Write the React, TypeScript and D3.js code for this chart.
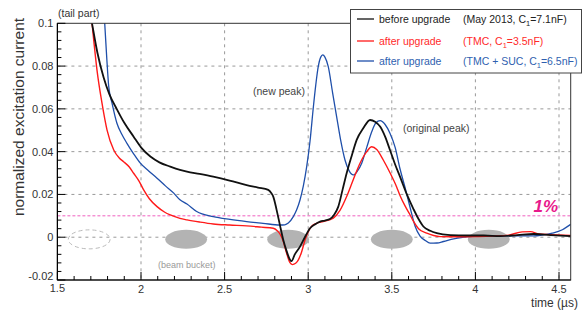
import React from "react";
import * as d3 from "d3";

const W = 583;
const H = 310;

// Data (time in µs, normalized excitation current)
const blackT = [1.68, 1.707, 1.74, 1.777, 1.81, 1.856, 1.9, 1.956, 2.0, 2.056, 2.11, 2.175, 2.233, 2.275, 2.35, 2.432, 2.53, 2.632, 2.7, 2.761, 2.78, 2.791, 2.811, 2.83, 2.851, 2.871, 2.891, 2.9, 2.92, 2.951, 2.98, 3.011, 3.04, 3.071, 3.1, 3.13, 3.155, 3.18, 3.205, 3.23, 3.26, 3.29, 3.33, 3.37, 3.4, 3.43, 3.46, 3.489, 3.52, 3.549, 3.59, 3.629, 3.66, 3.689, 3.73, 3.769, 3.85, 3.95, 4.05, 4.15, 4.25, 4.35, 4.45, 4.57];
const blackV = [0.112, 0.1, 0.086, 0.0745, 0.067, 0.0598, 0.0535, 0.047, 0.042, 0.0377, 0.035, 0.033, 0.0315, 0.0307, 0.0296, 0.0283, 0.0265, 0.0244, 0.0232, 0.0221, 0.0205, 0.019, 0.0128, 0.006, -0.0013, -0.0065, -0.0105, -0.0112, -0.008, -0.0044, 0.0, 0.0042, 0.006, 0.0073, 0.0078, 0.0085, 0.0105, 0.0143, 0.022, 0.0299, 0.038, 0.0455, 0.051, 0.0548, 0.054, 0.0517, 0.047, 0.0408, 0.034, 0.0283, 0.02, 0.0133, 0.0085, 0.005, 0.003, 0.0019, 0.001, 0.0008, 0.0008, 0.0005, 0.001, 0.0015, 0.001, 0.0005];

const redT = [1.69, 1.707, 1.72, 1.737, 1.767, 1.797, 1.837, 1.87, 1.896, 1.93, 1.956, 1.99, 2.016, 2.05, 2.096, 2.14, 2.175, 2.233, 2.275, 2.35, 2.432, 2.53, 2.632, 2.72, 2.791, 2.815, 2.831, 2.851, 2.871, 2.89, 2.905, 2.925, 2.941, 2.96, 2.981, 3.0, 3.021, 3.05, 3.09, 3.15, 3.19, 3.23, 3.27, 3.31, 3.35, 3.38, 3.41, 3.449, 3.49, 3.529, 3.549, 3.58, 3.609, 3.629, 3.66, 3.709, 3.75, 3.789, 3.9, 4.0, 4.1, 4.2, 4.28, 4.33, 4.38, 4.45, 4.57];
const redV = [0.11, 0.1, 0.09, 0.078, 0.0626, 0.0501, 0.0408, 0.037, 0.0353, 0.0328, 0.0299, 0.026, 0.0221, 0.018, 0.0143, 0.0118, 0.0104, 0.0088, 0.0081, 0.0071, 0.0062, 0.0057, 0.0053, 0.0047, 0.0042, 0.003, 0.0015, -0.002, -0.0075, -0.0118, -0.0128, -0.0122, -0.0106, -0.007, -0.0013, 0.0025, 0.0052, 0.0065, 0.0073, 0.0089, 0.0125, 0.019, 0.027, 0.0346, 0.04, 0.0423, 0.041, 0.0361, 0.03, 0.0235, 0.0195, 0.0145, 0.0105, 0.0075, 0.004, 0.0019, 0.0008, 0.0003, 0.0002, 0.0003, 0.0005, 0.001, 0.0025, 0.0026, 0.0015, 0.0012, 0.0008];

const blueT = [1.775, 1.783, 1.795, 1.807, 1.827, 1.856, 1.886, 1.916, 1.956, 1.996, 2.046, 2.096, 2.146, 2.196, 2.233, 2.275, 2.333, 2.432, 2.532, 2.632, 2.73, 2.831, 2.86, 2.881, 2.911, 2.931, 2.951, 2.971, 2.991, 3.011, 3.031, 3.045, 3.06, 3.075, 3.087, 3.1, 3.12, 3.145, 3.17, 3.195, 3.22, 3.245, 3.27, 3.295, 3.32, 3.35, 3.38, 3.405, 3.43, 3.46, 3.489, 3.52, 3.549, 3.58, 3.609, 3.64, 3.669, 3.7, 3.729, 3.77, 3.809, 3.87, 3.948, 4.05, 4.147, 4.25, 4.346, 4.4, 4.46, 4.52, 4.57];
const blueV = [0.11, 0.1, 0.084, 0.0704, 0.0626, 0.0533, 0.048, 0.0439, 0.039, 0.0346, 0.031, 0.0276, 0.024, 0.0206, 0.0175, 0.0155, 0.012, 0.0096, 0.0083, 0.0073, 0.0065, 0.0057, 0.0058, 0.0066, 0.0096, 0.0128, 0.0174, 0.024, 0.033, 0.045, 0.061, 0.071, 0.0797, 0.0842, 0.0852, 0.0842, 0.0797, 0.068, 0.0564, 0.045, 0.0361, 0.031, 0.0291, 0.031, 0.0346, 0.042, 0.0493, 0.0535, 0.0545, 0.0527, 0.0486, 0.042, 0.032, 0.023, 0.014, 0.005, 0.0005, -0.0015, -0.0028, -0.0027, -0.002, -0.0008, 0.0002, 0.0005, 0.0006, 0.0006, 0.0006, 0.001, 0.0019, 0.0035, 0.006];

const bucketCenters = [1.69, 2.27, 2.88, 3.5, 4.08];
const xMajorTicks = [1.5, 2, 2.5, 3, 3.5, 4, 4.5];
const yMajorTicks = [-0.02, 0, 0.02, 0.04, 0.06, 0.08, 0.1];
const threshold = 0.01;

const FONT = "'Liberation Sans', Arial, Helvetica, sans-serif";

export default function App() {
  const left = 57.4, right = 570.7, top = 23.3, bottom = 280;
  const x = d3.scaleLinear().domain([1.5, 1.5 + (right - left) / 167.2]).range([left, right]);
  const y = d3.scaleLinear().domain([-0.02, 0.1]).range([bottom, top]);

  const line = d3.line<[number, number]>().x(d => x(d[0])).y(d => y(d[1])).curve(d3.curveMonotoneX);
  const mk = (t: number[], v: number[]) => line(t.map((tt, i) => [tt, v[i]] as [number, number])) || "";

  const xMinor = d3.range(15, 46).map(i => i / 10).filter(t => !xMajorTicks.some(m => Math.abs(m - t) < 1e-6));
  const yMinor = d3.range(-5, 26).map(i => i * 0.004).filter(v => !yMajorTicks.some(m => Math.abs(m - v) < 1e-6));
  const fmtY = (v: number) => (Math.abs(v) < 1e-9 ? "0" : String(+v.toFixed(3)));

  const rx = x(1.5 + 0.125) - x(1.5);
  const ry = 9.5;

  return (
    <svg width={W} height={H} style={{ position: "absolute", left: 0, top: 0, background: "#fff" }} fontFamily={FONT}>
      <defs>
        <clipPath id="plot">
          <rect x={left} y={top} width={right - left} height={bottom - top} />
        </clipPath>
      </defs>
      <rect x={0} y={0} width={W} height={H} fill="#fff" />

      {/* grid */}
      {xMajorTicks.filter(t => t > 1.5).map(t => (
        <line key={"gx" + t} x1={x(t)} x2={x(t)} y1={top} y2={bottom} stroke="#999" strokeDasharray="3,4" strokeWidth={1} />
      ))}
      {yMajorTicks.filter(v => v > -0.02 && v < 0.1).map(v => (
        <line key={"gy" + v} x1={left} x2={right} y1={y(v)} y2={y(v)} stroke="#999" strokeDasharray="3,4" strokeWidth={1} />
      ))}
      <line x1={left} x2={right} y1={y(threshold)} y2={y(threshold)} stroke="#f060c0" strokeDasharray="3,2" strokeWidth={1} />

      {/* beam buckets */}
      {bucketCenters.map((c, i) =>
        i === 0 ? (
          <ellipse key={"b" + i} cx={x(c)} cy={y(-0.001)} rx={rx} ry={ry} fill="none" stroke="#bbb" strokeDasharray="4,3" strokeWidth={1} />
        ) : (
          <ellipse key={"b" + i} cx={x(c)} cy={y(-0.001)} rx={rx} ry={ry} fill="#b3b3b3" />
        )
      )}

      {/* curves */}
      <g clipPath="url(#plot)" fill="none">
        <path d={mk(blueT, blueV)} stroke="#1f4faa" strokeWidth={1.3} />
        <path d={mk(redT, redV)} stroke="#ff1a1a" strokeWidth={1.4} />
        <path d={mk(blackT, blackV)} stroke="#111" strokeWidth={1.8} />
      </g>

      {/* frame */}
      <rect x={left} y={top} width={right - left} height={bottom - top} fill="none" stroke="#333" strokeWidth={1} />
      <line x1={left} x2={left} y1={top} y2={bottom} stroke="#000" strokeWidth={1.2} />
      <line x1={left} x2={right} y1={bottom} y2={bottom} stroke="#000" strokeWidth={1.2} />

      {/* ticks */}
      {xMajorTicks.map(t => (
        <line key={"xt" + t} x1={x(t)} x2={x(t)} y1={bottom} y2={bottom - 8} stroke="#000" strokeWidth={1} />
      ))}
      {xMinor.map(t => (
        <line key={"xm" + t} x1={x(t)} x2={x(t)} y1={bottom} y2={bottom - 4} stroke="#000" strokeWidth={1} />
      ))}
      {yMajorTicks.map(v => (
        <line key={"yt" + v} x1={left} x2={left + 8} y1={y(v)} y2={y(v)} stroke="#000" strokeWidth={1} />
      ))}
      {yMinor.map(v => (
        <line key={"ym" + v} x1={left} x2={left + 4} y1={y(v)} y2={y(v)} stroke="#000" strokeWidth={1} />
      ))}

      {/* tick labels */}
      {xMajorTicks.map(t => (
        <text key={"xl" + t} x={x(t)} y={t === 1.5 ? 292 : 293} textAnchor="middle" fontSize={11} fill="#333">
          {String(t)}
        </text>
      ))}
      {yMajorTicks.map(v => (
        <text key={"yl" + v} x={left - 4} y={y(v) + (v === -0.02 ? 0 : 4)} textAnchor="end" fontSize={11} fill="#333">
          {fmtY(v)}
        </text>
      ))}

      {/* axis titles */}
      <text x={578} y={307} textAnchor="end" fontSize={12} fill="#333">time (µs)</text>
      <text transform={`translate(24,117) rotate(-90)`} textAnchor="middle" fontSize={15.5} fill="#333">
        normalized excitation current
      </text>

      {/* annotations */}
      <text x={58} y={17} fontSize={10.5} fill="#333">(tail part)</text>
      <text x={253} y={95} fontSize={10.5} fill="#444">(new peak)</text>
      <text x={403} y={132} fontSize={10.5} fill="#444">(original peak)</text>
      <text x={158} y={268} fontSize={9} fill="#999">(beam bucket)</text>
      <text x={558} y={212} textAnchor="end" fontSize={17} fontWeight="bold" fontStyle="italic" fill="#e8198c">1%</text>

      {/* legend */}
      <g>
        <rect x={350.5} y={9.5} width={231} height={63.5} fill="#fff" stroke="#444" strokeWidth={1} />
        <line x1={357} x2={374} y1={19} y2={19} stroke="#111" strokeWidth={1.3} />
        <line x1={357} x2={374} y1={41} y2={41} stroke="#ff1a1a" strokeWidth={1.3} />
        <line x1={357} x2={374} y1={61} y2={61} stroke="#1f4faa" strokeWidth={1.3} />
        <text x={379} y={23} fontSize={10.5} fill="#222">before upgrade</text>
        <text x={379} y={45} fontSize={10.5} fill="#ff2a2a">after upgrade</text>
        <text x={379} y={65} fontSize={10.5} fill="#2f5faf">after upgrade</text>
        <text x={463} y={23} fontSize={10.5} fill="#222">
          (May 2013, C<tspan fontSize={7.5} dy={2.5}>1</tspan><tspan dy={-2.5}>=7.1nF)</tspan>
        </text>
        <text x={463} y={45} fontSize={10.5} fill="#ff2a2a">
          (TMC, C<tspan fontSize={7.5} dy={2.5}>1</tspan><tspan dy={-2.5}>=3.5nF)</tspan>
        </text>
        <text x={463} y={65} fontSize={10.5} fill="#2f5faf">
          (TMC + SUC, C<tspan fontSize={7.5} dy={2.5}>1</tspan><tspan dy={-2.5}>=6.5nF)</tspan>
        </text>
      </g>
    </svg>
  );
}
